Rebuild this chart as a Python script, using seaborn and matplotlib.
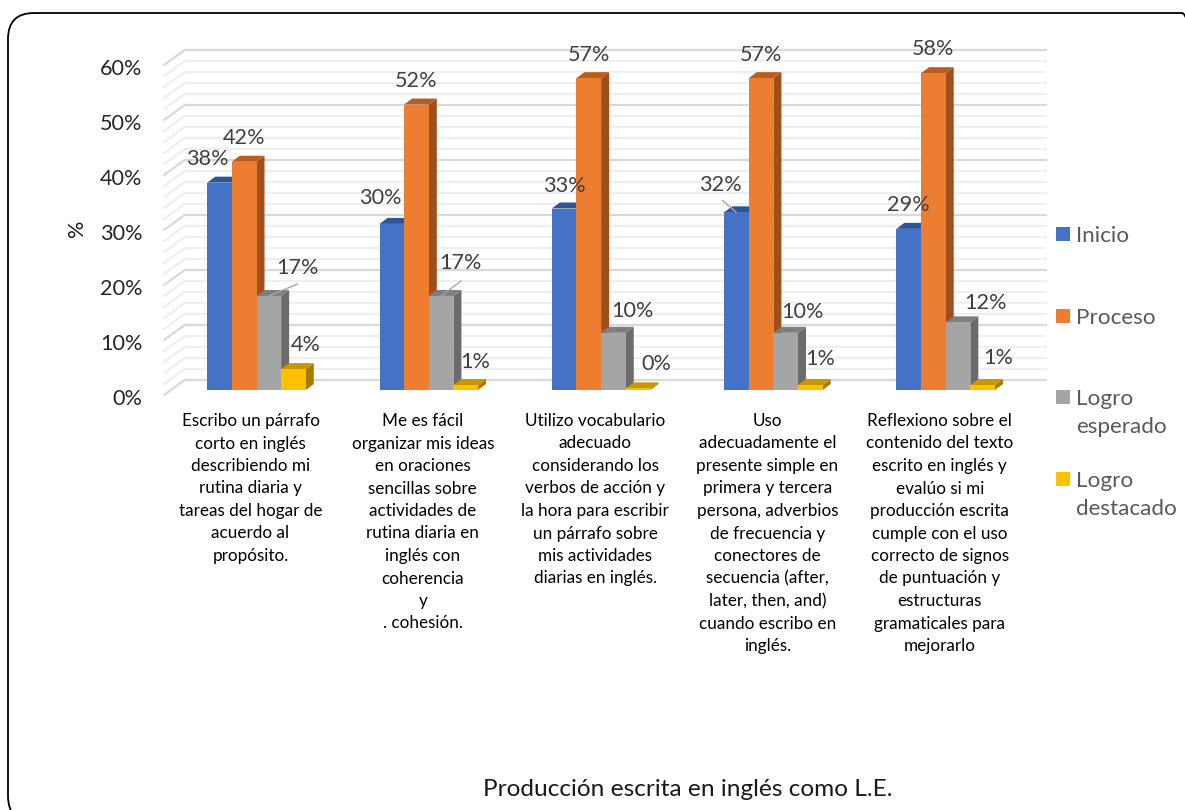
import pandas as pd
import numpy as np
import matplotlib
matplotlib.use('Agg')
import matplotlib.pyplot as plt
from matplotlib.patches import Polygon, Rectangle, FancyBboxPatch
from matplotlib.transforms import Affine2D
import seaborn as sns

categorias = [
    'Escribo un párrafo\ncorto en inglés\ndescribiendo mi\nrutina diaria y\ntareas del hogar de\nacuerdo al\npropósito.',
    'Me es fácil\norganizar mis ideas\nen oraciones\nsencillas sobre\nactividades de\nrutina diaria en\ninglés con\ncoherencia\ny\n. cohesión.',
    'Utilizo vocabulario\nadecuado\nconsiderando los\nverbos de acción y\nla hora para escribir\nun párrafo sobre\nmis actividades\ndiarias en inglés.',
    'Uso\nadecuadamente el\npresente simple en\nprimera y tercera\npersona, adverbios\nde frecuencia y\nconectores de\nsecuencia (after,\nlater, then, and)\ncuando escribo en\ninglés.',
    'Reflexiono sobre el\ncontenido del texto\nescrito en inglés y\nevalúo si mi\nproducción escrita\ncumple con el uso\ncorrecto de signos\nde puntuación y\nestructuras\ngramaticales para\nmejorarlo',
]
inicio = [37.7, 30.2, 33.0, 32.3, 29.3]
proceso = [41.5, 51.9, 56.7, 56.7, 57.6]
logro_esperado = [17.1, 17.1, 10.4, 10.4, 12.3]
logro_destacado = [3.8, 0.9, 0.3, 0.9, 0.9]

series = ['Inicio', 'Proceso', 'Logro esperado', 'Logro destacado']
series_legend = ['Inicio', 'Proceso', 'Logro\nesperado', 'Logro\ndestacado']
colores = ['#4472C4', '#ED7D31', '#A5A5A5', '#FFC000']
colores_top = ['#2F5597', '#B85C20', '#7F7F7F', '#C79600']
colores_side = ['#2A4A85', '#9E4F1C', '#6B6B6B', '#A67C00']
yticks = [0, 10, 20, 30, 40, 50, 60]

# desplazamiento de cada etiqueta respecto al techo de la barra (px)
label_offset = [
    [(-12, 24), (0, 24), (29, 28), (12, 24)],
    [(-12, 26), (0, 24), (19, 33), (9, 23)],
    [(0, 23), (0, 23), (19, 22), (18, 24)],
    [(-16, 27), (0, 23), (17, 21), (10, 26)],
    [(0, 24), (0, 24), (27, 19), (15, 27)],
]
# lineas guia: (grupo, serie, dx etiqueta, dy etiqueta)
leaders = [(0, 2, 29, 12), (1, 2, 20, 15), (3, 0, -14, 12)]

W, H = 1185, 810
FONT = ['Lato', 'DejaVu Sans']

df = pd.DataFrame({
    'cat': categorias * 4,
    'serie': np.repeat(series, 5),
    'valor': inicio + proceso + logro_esperado + logro_destacado,
})

sns.set_theme(style='white')
plt.rcParams['font.family'] = FONT

fig = plt.figure(figsize=(W / 100, H / 100), dpi=100)
ax = fig.add_axes([170.35 / W, (H - 390) / H, 861.5 / W, 330 / H])
sns.barplot(data=df, x='cat', y='valor', hue='serie', palette=colores, saturation=1,
            width=0.572, gap=0, dodge=True, legend=False, linewidth=0, ax=ax)
ax.set_xlim(-0.5, 4.5)
ax.set_ylim(0, 60)
sns.despine(ax=ax, left=True, bottom=True)
ax.set_xlabel('')
ax.set_ylabel('')
ax.set_xticks([])
ax.patch.set_alpha(0)

px_x = 172.3
px_y = 5.5
dx3 = 8 / px_x
dy3 = 6 / px_y

# paredes: rejilla de fondo y lateral
trans = ax.get_yaxis_transform() + Affine2D().translate(15, 10.5)
for v in range(0, 61, 2):
    col = '#D9D9D9' if v % 10 == 0 else '#EFEFEF'
    z = 1.2 if v % 10 == 0 else 1.1
    ax.hlines(v, 0, 1, transform=trans, colors=col, lw=1.6, clip_on=False, zorder=z)
    ax.plot([-22 / 861.5, 0], [v - 16 / px_y, v], transform=trans, color=col, lw=1.6,
            clip_on=False, zorder=z, solid_capstyle='butt')

# barras con efecto 3D
for j, cont in enumerate(ax.containers):
    for i, bar in enumerate(cont):
        x0, w, h = bar.get_x(), bar.get_width(), bar.get_height()
        bar.set_zorder(3 + j + 0.5)
        bar.set_edgecolor('none')
        ax.add_patch(Polygon([(x0 + w, 0), (x0 + w + dx3, dy3), (x0 + w + dx3, h + dy3), (x0 + w, h)],
                             fc=colores_side[j], ec='none', zorder=3 + j, clip_on=False))
        ax.add_patch(Polygon([(x0, h), (x0 + dx3, h + dy3), (x0 + w + dx3, h + dy3), (x0 + w, h)],
                             fc=colores_top[j], ec='none', zorder=3 + j, clip_on=False))
        ox, oy = label_offset[i][j]
        ax.annotate(f'{round(h)}%', (x0 + w / 2, h), xytext=(ox, oy), textcoords='offset pixels',
                    ha='center', va='center', fontsize=15.6, color='#404040', zorder=20,
                    annotation_clip=False)

for i, j, lx, ly in leaders:
    bar = ax.containers[j][i]
    ax.annotate('', (bar.get_x() + bar.get_width() / 2, bar.get_height()), xytext=(lx, ly),
                textcoords=('offset pixels'), xycoords='data',
                arrowprops=dict(arrowstyle='-', color='#A6A6A6', lw=1, shrinkA=0, shrinkB=0),
                zorder=15, annotation_clip=False)

# eje y
ax.set_yticks(yticks)
ax.set_yticklabels([f'{v}%' for v in yticks])
ax.tick_params(axis='y', length=0, pad=20, labelsize=15.6, labelcolor='#262626')
for lab in ax.get_yticklabels():
    lab.set_transform(lab.get_transform() + Affine2D().translate(0, -7))
fig.text(77 / W, 1 - 228 / H, '%', rotation=90, ha='center', va='center', fontsize=15.6, color='#1a1a1a')

# etiquetas de categorias
for i, txt in enumerate(categorias):
    ax.annotate(txt, (i, 0), xytext=(-6, -23), textcoords='offset pixels', ha='center', va='top',
                fontsize=12.3, color='black', linespacing=1.5, annotation_clip=False)

# leyenda
for k, lab in enumerate(series_legend):
    yc = 234 + 81.7 * k
    fig.add_artist(Rectangle((1056 / W, 1 - (yc + 7) / H), 14 / W, 14 / H, fc=colores[k], ec='none',
                             transform=fig.transFigure))
    fig.text(1076 / W, 1 - (yc - 8) / H, lab, ha='left', va='top', fontsize=16.2, color='#595959',
             linespacing=1.5)

fig.text(688 / W, 1 - 790 / H, 'Producción escrita en inglés como L.E.', ha='center', va='center',
         fontsize=17.6, color='#1a1a1a')

# marco redondeado
fig.add_artist(FancyBboxPatch((8, -12), 1200, 809, boxstyle='round,pad=0,rounding_size=26', fc='none',
                              ec='black', lw=1.3, transform=None))

fig.savefig('out.png', dpi=100)
